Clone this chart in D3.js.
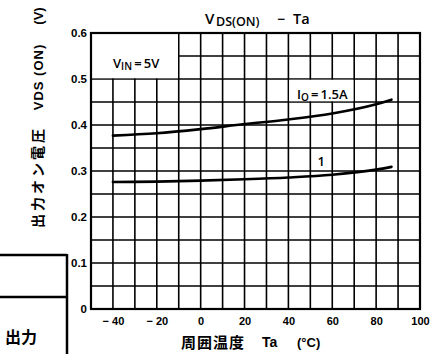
<!DOCTYPE html>
<html><head><meta charset="utf-8">
<script src="https://cdn.jsdelivr.net/npm/d3@7/dist/d3.min.js"></script>
<style>
html,body{margin:0;padding:0;background:#fff;}
svg text{font-family:"Liberation Sans",Arial,sans-serif;fill:#000;}
.jp{font-family:"Noto Sans CJK JP","Noto Sans",sans-serif;}
.os{font-family:"Open Sans","Liberation Sans",sans-serif;font-weight:600;}
</style></head>
<body>
<script>
// ---- data ----
const xGrid = [-50,-40,-30,-20,-10,0,10,20,30,40,50,60,70,80,90,100];
const yGrid = [0,0.05,0.1,0.15,0.2,0.25,0.3,0.35,0.4,0.45,0.5,0.55,0.6];
const xTicks = [-40,-20,0,20,40,60,80,100];
const xTickLabels = ["\u2212 40","\u2212 20","0","20","40","60","80","100"];
const yTicks = [0,0.1,0.2,0.3,0.4,0.5,0.6];
const yTickLabels = ["0","0.1","0.2","0.3","0.4","0.5","0.6"];
const ta = [-40,-20,0,20,40,60,80,87];
const vds15 = [0.377,0.382,0.391,0.402,0.412,0.425,0.445,0.455];
const vds1  = [0.276,0.277,0.279,0.282,0.286,0.292,0.303,0.309];
// label cells where the grid is blanked out
const labelBoxes = [{ta:[-50,-10], v:[0.5,0.6]}, {ta:[40,70], v:[0.45,0.5]}];

const W=440,H=354;
const svg=d3.select("body").append("svg").attr("width",W).attr("height",H);
const x=d3.scaleLinear().domain([-50,100]).range([91,420]);
const y=d3.scaleLinear().domain([0,0.6]).range([309,33]);

// grid
const g=svg.append("g").attr("stroke","#000").attr("stroke-width",1.6).attr("fill","none");
xGrid.forEach(v=>{
  g.append("line").attr("x1",x(v)).attr("x2",x(v)).attr("y1",y(0)).attr("y2",y(0.6));
});
yGrid.forEach(v=>{
  g.append("line").attr("x1",x(-50)).attr("x2",x(100)).attr("y1",y(v)).attr("y2",y(v));
});
labelBoxes.forEach(b=>{
  svg.append("rect").attr("x",x(b.ta[0])+0.8).attr("y",y(b.v[1])+0.8)
    .attr("width",x(b.ta[1])-x(b.ta[0])-1.6).attr("height",y(b.v[0])-y(b.v[1])-1.6).attr("fill","#fff");
});
svg.append("rect").attr("x",x(-50)).attr("y",y(0.6)).attr("width",x(100)-x(-50)).attr("height",y(0)-y(0.6))
  .attr("fill","none").attr("stroke","#000").attr("stroke-width",2.2);

// curves
const line=d3.line().x(d=>x(d[0])).y(d=>y(d[1])).curve(d3.curveMonotoneX);
[vds15,vds1].forEach(s=>{
  svg.append("path").datum(ta.map((t,i)=>[t,s[i]])).attr("d",line)
    .attr("fill","none").attr("stroke","#000").attr("stroke-width",2.6).attr("stroke-linecap","round");
});

// axes labels
const xa=svg.append("g").attr("transform",`translate(0,${y(0)})`)
  .call(d3.axisBottom(x).tickValues(xTicks).tickSize(0).tickPadding(8).tickFormat((d,i)=>xTickLabels[i]));
xa.select(".domain").remove();
xa.selectAll("text").attr("font-size",11).attr("font-weight","bold").attr("font-family","Liberation Sans, Arial, sans-serif");
const ya=svg.append("g").attr("transform",`translate(${x(-50)},0)`)
  .call(d3.axisLeft(y).tickValues(yTicks).tickSize(0).tickPadding(4).tickFormat((d,i)=>yTickLabels[i]));
ya.select(".domain").remove();
ya.selectAll("text").attr("font-size",11.5).attr("font-weight","bold").attr("font-family","Liberation Sans, Arial, sans-serif");

// title
svg.append("text").attr("class","os").attr("x",205).attr("y",24).attr("font-size",15).text("V");
svg.append("text").attr("class","os").attr("x",216).attr("y",26).attr("font-size",12.5).text("DS(ON)");
svg.append("text").attr("class","os").attr("x",277).attr("y",24).attr("font-size",14).text("\u2212");
svg.append("text").attr("class","os").attr("x",293).attr("y",24).attr("font-size",14.5).text("Ta");

// y label
svg.append("text").attr("class","jp").attr("transform","translate(43,177) rotate(-90)")
  .attr("text-anchor","middle").attr("font-size",14).attr("font-weight","bold").attr("letter-spacing",3).text("出力オン電圧");
const yl=svg.append("text").attr("transform","translate(43,77) rotate(-90)")
  .attr("text-anchor","middle").attr("font-size",13).attr("font-weight","bold").attr("letter-spacing",1);
yl.append("tspan").text("V");
yl.append("tspan").text("DS (ON)");
svg.append("text").attr("transform","translate(43,16) rotate(-90)")
  .attr("text-anchor","middle").attr("font-size",13).attr("font-weight","bold").text("(V)");

// x label
svg.append("text").attr("class","jp").attr("x",181).attr("y",348).attr("font-size",15).attr("font-weight","bold")
  .attr("letter-spacing",1).text("周囲温度");
svg.append("text").attr("x",262).attr("y",347).attr("font-size",14).attr("font-weight","bold").text("Ta");
svg.append("text").attr("x",297).attr("y",347).attr("font-size",13).attr("font-weight","bold").text("(°C)");

// annotations
const vin=svg.append("text").attr("class","os").attr("x",113).attr("y",y(0.525)).attr("font-size",13);
vin.append("tspan").text("V");
vin.append("tspan").attr("font-size",10).attr("dy",2).text("IN");
vin.append("tspan").attr("dy",-2).text("\u2009=\u20095V");
const io=svg.append("text").attr("class","os").attr("x",297).attr("y",y(0.457)).attr("font-size",13);
io.append("tspan").text("I");
io.append("tspan").attr("font-size",10).attr("dy",2).text("O");
io.append("tspan").attr("dy",-2).text("\u2009=\u20091.5A");
svg.append("text").attr("class","os").attr("x",x(55)).attr("y",y(0.31)).attr("text-anchor","middle").attr("font-size",13).text("1");

// neighbouring figure fragment from the scanned page
const fr=svg.append("g").attr("stroke","#000").attr("stroke-width",2.5);
fr.append("line").attr("x1",0).attr("x2",67).attr("y1",255).attr("y2",255);
fr.append("line").attr("x1",0).attr("x2",66).attr("y1",297).attr("y2",297);
fr.append("line").attr("x1",67).attr("x2",67).attr("y1",254).attr("y2",354);
svg.append("text").attr("class","jp").attr("x",5).attr("y",343).attr("font-size",16).attr("font-weight","bold").text("出力");
</script>
</body></html>
